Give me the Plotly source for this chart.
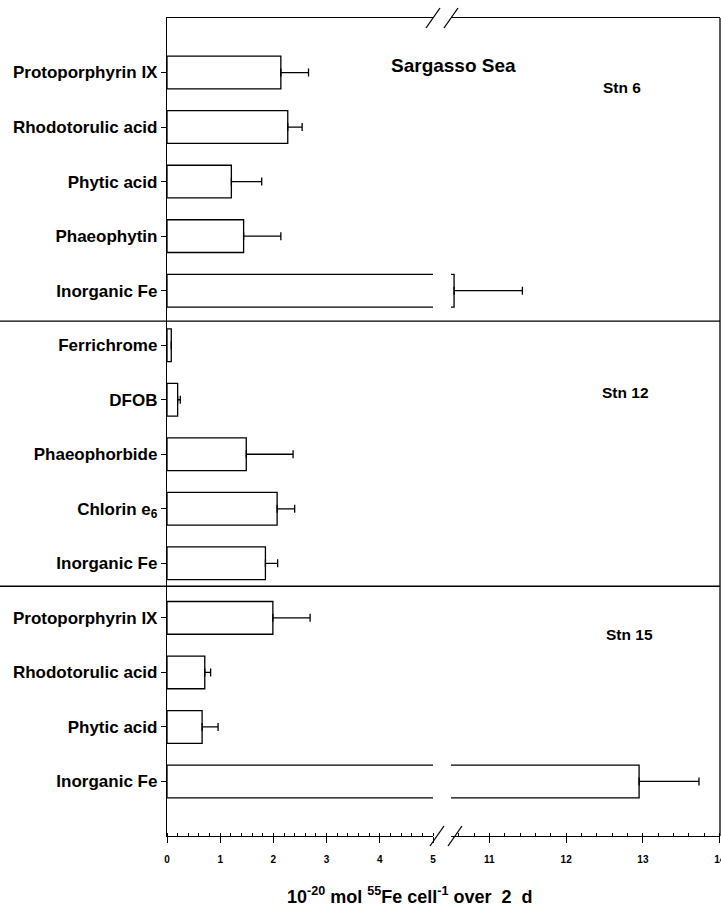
import plotly.graph_objects as go

# ---------------- data ----------------
stations = ["Stn 6"] * 5 + ["Stn 12"] * 5 + ["Stn 15"] * 4
compounds = [
    "Protoporphyrin IX", "Rhodotorulic acid", "Phytic acid", "Phaeophytin", "Inorganic Fe",
    "Ferrichrome", "DFOB", "Phaeophorbide", "Chlorin e<sub>6</sub>", "Inorganic Fe",
    "Protoporphyrin IX", "Rhodotorulic acid", "Phytic acid", "Inorganic Fe",
]
uptake = [2.14, 2.27, 1.21, 1.44, 10.54,
          0.08, 0.20, 1.49, 2.07, 1.85,
          1.99, 0.71, 0.66, 12.95]
uptake_err = [0.52, 0.27, 0.57, 0.70, 0.89,
              0.0, 0.05, 0.88, 0.33, 0.23,
              0.70, 0.11, 0.30, 0.78]
ticks_low = [0, 1, 2, 3, 4, 5]
ticks_high = [11, 12, 13, 14]
range_low = [0, 5]
range_high = [10.5, 14.004]
station_names = ["Stn 6", "Stn 12", "Stn 15"]
title_text = "Sargasso Sea"

# ---------------- geometry helpers ----------------
W, H = 721, 908
ML, MR, MT, MB = 167, 1, 18, 72
PW = W - ML - MR
PH = H - MT - MB
dom1 = [0, 266 / PW]
dom2 = [284 / PW, 1]

ypos = list(range(len(compounds)))
FONT = "Arial, Liberation Sans, Helvetica, sans-serif"

err_low = [e if v <= range_low[1] else None for v, e in zip(uptake, uptake_err)]
x_high = [v if v > range_low[1] else None for v in uptake]
err_high = [e if v > range_low[1] else None for v, e in zip(uptake, uptake_err)]

bar_style = dict(color="white", line=dict(color="black", width=1.3))
eb = dict(color="black", thickness=1.3, width=4)

fig = go.Figure()
fig.add_trace(go.Bar(
    x=uptake, y=ypos, orientation="h", width=0.6, marker=bar_style,
    error_x=dict(type="data", symmetric=False, array=err_low,
                 arrayminus=[0] * len(uptake), **eb),
    xaxis="x", yaxis="y", showlegend=False, hoverinfo="skip",
))
fig.add_trace(go.Bar(
    x=x_high, y=ypos, orientation="h", width=0.6, marker=bar_style,
    error_x=dict(type="data", symmetric=False, array=err_high,
                 arrayminus=[0] * len(uptake), **eb),
    xaxis="x2", yaxis="y", showlegend=False, hoverinfo="skip",
))

xcommon = dict(
    showline=True, linecolor="black", linewidth=1.3, mirror=True,
    ticks="outside", ticklen=6, tickwidth=1.2, tickcolor="black",
    showgrid=False, zeroline=False, anchor="y",
    tickfont=dict(family=FONT, size=10, color="black", weight="bold"),
    ticklabelstandoff=8, automargin=False, ticklabeloverflow="allow",
)
fig.update_layout(
    width=W, height=H,
    margin=dict(l=ML, r=MR, t=MT, b=MB, autoexpand=False),
    paper_bgcolor="white", plot_bgcolor="white",
    bargap=0.4,
    xaxis=dict(domain=dom1, range=range_low, tickvals=ticks_low,
               minor=dict(dtick=0.2, tick0=0, ticks="inside", ticklen=3,
                          tickcolor="black", tickwidth=1),
               **xcommon),
    xaxis2=dict(domain=dom2, range=range_high, tickvals=ticks_high,
                minor=dict(dtick=0.2, tick0=10, ticks="inside", ticklen=3,
                           tickcolor="black", tickwidth=1),
                **xcommon),
    yaxis=dict(range=[len(compounds), -1], tickvals=ypos, ticktext=compounds,
               showline=True, linecolor="black", linewidth=1.3,
               ticks="outside", ticklen=5, tickcolor="black", tickwidth=1.2,
               showgrid=False, zeroline=False, anchor="x", automargin=False,
               tickfont=dict(family=FONT, size=17, color="black", weight="bold")),
)

shapes = []
# right border
shapes.append(dict(type="line", xref="paper", yref="paper", x0=1, x1=1, y0=0, y1=1,
                   line=dict(color="black", width=1.3)))
# station separators (between station groups)
sep_pos = []
for i in range(1, len(stations)):
    if stations[i] != stations[i - 1]:
        sep_pos.append(i - 0.5)
sep_adj = [0.06, -0.08]
for s, a in zip(sep_pos, sep_adj):
    shapes.append(dict(type="line", xref="paper", yref="y", x0=-ML / PW, x1=1,
                       y0=s + a, y1=s + a, line=dict(color="black", width=1.3)))
# axis break slashes
dx, dy = 7 / PW, 10 / PH
for cy, shift in [(0, 4 / PW), (1, 0)]:
    for cx in [dom1[1] + shift, dom2[0] + shift]:
        shapes.append(dict(type="line", xref="paper", yref="paper",
                           x0=cx - dx, y0=cy - dy, x1=cx + dx, y1=cy + dy,
                           line=dict(color="black", width=1.3)))
fig.update_layout(shapes=shapes)

ann = []
ann.append(dict(text=title_text, xref="paper", yref="y", x=(453 - ML) / PW, y=-0.13,
                showarrow=False, xanchor="center", yanchor="middle",
                font=dict(family=FONT, size=19, color="black", weight="bold")))
stn_xy = [((622 - ML) / PW, 0.28), ((625 - ML) / PW, 5.86), ((629 - ML) / PW, 10.3)]
for name, (sx, sy) in zip(station_names, stn_xy):
    ann.append(dict(text=name, xref="paper", yref="y", x=sx, y=sy, showarrow=False,
                    xanchor="center", yanchor="middle",
                    font=dict(family=FONT, size=15.5, color="black", weight="bold")))
ann.append(dict(text="10<sup>-20</sup> mol <sup>55</sup>Fe cell<sup>-1</sup> over\u00a0 2\u00a0 d",
                xref="paper", yref="paper", x=(410 - ML) / PW, y=-(895 - 836) / PH,
                showarrow=False, xanchor="center", yanchor="middle",
                font=dict(family=FONT, size=18, color="black", weight="bold")))
fig.update_layout(annotations=ann)

fig.write_html("out.html", config=dict(displayModeBar=False),
               post_script="document.body.style.margin='0';document.body.style.overflow='hidden';")
